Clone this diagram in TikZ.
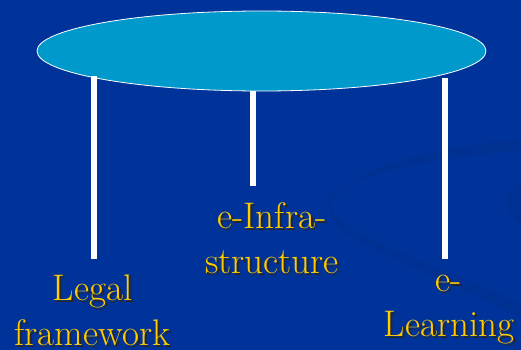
\documentclass[tikz,border=0pt]{standalone}
\usepackage{fontspec}
\usepackage{tikz}
\usetikzlibrary{shapes.geometric}
\definecolor{bgblue}{HTML}{003399}
\definecolor{swirl}{HTML}{003192}
\definecolor{tabletop}{HTML}{0099CC}
\definecolor{lblyellow}{HTML}{FFCC00}
\tikzset{lbl/.style={align=center, inner sep=0pt, text=lblyellow,
  font=\rmfamily\fontsize{37}{45}\selectfont\addfontfeatures{FakeBold=0.7}},
  shd/.style={lbl, text=black!85},
  leg/.style={draw=white, line width=6pt}}

\begin{document}
\begin{tikzpicture}[x=1pt, y=-1pt]
  \fill[bgblue] (0,0) rectangle (521,350);
  \useasboundingbox (0,0) rectangle (521,350);
  % faint swirl in the background
  \fill[swirl] (521,140) .. controls (390,148) and (285,195) .. (350,236)
    .. controls (410,268) and (470,290) .. (521,318) -- (521,304)
    .. controls (450,270) and (345,238) .. (328,206)
    .. controls (322,180) and (420,160) .. (521,150) -- cycle;
  \fill[swirl] (521,182) .. controls (502,192) and (502,212) .. (521,224) -- cycle;
  % table top
  \node[ellipse, draw=white, thick, fill=tabletop, minimum width=449pt,
    minimum height=80pt, inner sep=0pt] (top) at (261.5,51) {};
  \coordinate (legL) at (93.5,259);
  \coordinate (legM) at (253,186);
  \coordinate (legR) at (445,259);
  \draw[leg] (legL |- top.188.9) -- (legL);
  \draw[leg] (top.south -| legM) -- (legM);
  \draw[leg] (legR |- top.351.5) -- (legR);
  % labels with shadow
  \node[shd] (lawS) at (94.5,312) {Legal\\framework};
  \node[lbl] (law) at (92.5,310) {Legal\\framework};
  \node[shd] (infraS) at (274,240) {e-Infra-\\structure};
  \node[lbl] (infra) at (272,238) {e-Infra-\\structure};
  \node[shd] (learnS) at (451,312) {e-\\Learning};
  \node[lbl] (learn) at (449,310) {e-\\Learning};
\end{tikzpicture}
\end{document}
